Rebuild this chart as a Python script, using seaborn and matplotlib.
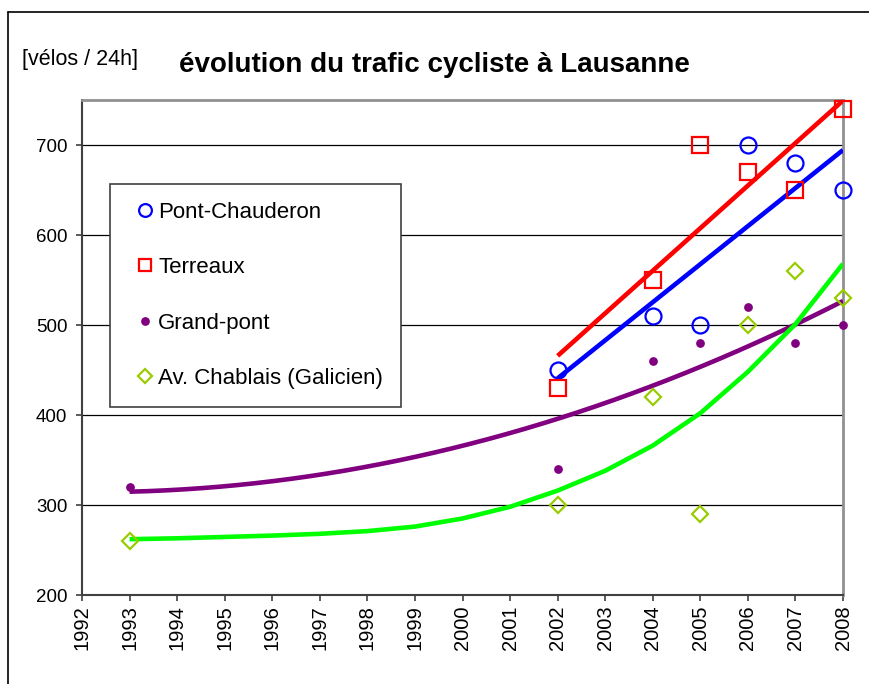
import numpy as np
import pandas as pd
import matplotlib
matplotlib.use("Agg")
import matplotlib.pyplot as plt
import seaborn as sns
from matplotlib.lines import Line2D

sns.set_theme(style="white")
plt.rcParams['font.family'] = ['Liberation Sans', 'DejaVu Sans']
plt.rcParams['text.color'] = 'black'
plt.rcParams['xtick.color'] = 'black'
plt.rcParams['ytick.color'] = 'black'

# ---- data ----
years_pc = [2002, 2004, 2005, 2006, 2007, 2008]
pont_chauderon = [450, 510, 500, 700, 680, 650]
years_te = [2002, 2004, 2005, 2006, 2007, 2008]
terreaux = [430, 550, 700, 670, 650, 740]
years_gp = [1993, 2002, 2004, 2005, 2006, 2007, 2008]
grand_pont = [320, 340, 460, 480, 520, 480, 500]
years_ch = [1993, 2002, 2004, 2005, 2006, 2007, 2008]
chablais = [260, 300, 420, 290, 500, 560, 530]

# trend curve of Av. Chablais
chablais_trend_years = list(range(1993, 2009))
chablais_trend = [262, 263, 264.5, 266, 268, 271, 276, 285, 298, 316, 338, 366,
                  402, 448, 501, 568]

series_names = ["Pont-Chauderon", "Terreaux", "Grand-pont", "Av. Chablais (Galicien)"]
x_ticks = list(range(1992, 2009))
y_ticks = [200, 300, 400, 500, 600, 700]

W, H = 869, 684
fig = plt.figure(figsize=(W / 100, H / 100), dpi=100)
ax = fig.add_axes([82 / W, 1 - 595 / H, (843 - 82) / W, (595 - 100) / H])

def trend(xs, ys, deg):
    c = np.polyfit(np.array(xs, float) - 2000, ys, deg)
    xx = np.linspace(min(xs), max(xs), 200)
    return pd.DataFrame({"x": xx, "y": np.polyval(c, xx - 2000)})

# trend lines
trends = [(trend(years_pc, pont_chauderon, 1), "#0000FF"),
          (trend(years_te, terreaux, 1), "#FF0000"),
          (trend(years_gp, grand_pont, 2), "#800080"),
          (pd.DataFrame({"x": chablais_trend_years, "y": chablais_trend}), "#00FF00")]
for t, col in trends:
    sns.lineplot(data=t, x="x", y="y", ax=ax, color=col, lw=3.3, zorder=3,
                 solid_capstyle="butt", solid_joinstyle="round")

# points
pts = [
    (years_pc, pont_chauderon, "o", 11.5, "#0000FF", "none", 1.6, 0.8),
    (years_te, terreaux, "s", 11.5, "#FF0000", "none", 1.6, 0.8),
    (years_gp, grand_pont, "o", 6.3, "#800080", "#800080", 0, 1.0),
    (years_ch, chablais, "D", 8, "#99CC00", "none", 1.6, 0.85),
]
handles = []
for (xs, ys, m, ms, ec, fc, mew, lscale), name in zip(pts, series_names):
    df = pd.DataFrame({"x": xs, "y": ys})
    ax.plot(df["x"], df["y"], ls="none", marker=m, ms=ms, mec=ec, mfc=fc,
            mew=mew, zorder=4, clip_on=False)
    handles.append(Line2D([], [], ls="none", marker=m, ms=ms * lscale, mec=ec, mfc=fc,
                          mew=mew, label=name))

ax.set_xlim(1992, 2008)
ax.set_ylim(200, 750)
ax.set_xticks(x_ticks)
ax.set_xticklabels([str(v) for v in x_ticks], rotation=90, fontsize=14.5)
ax.set_yticks(y_ticks)
ax.set_yticklabels([str(v) for v in y_ticks], fontsize=13.5)
ax.set_xlabel("")
ax.set_ylabel("")
ax.yaxis.grid(True, color="black", lw=0.9)
ax.xaxis.grid(False)
ax.set_axisbelow(True)
ax.tick_params(axis="both", which="both", direction="out", length=4.5, width=1.2,
               color="#404040", bottom=True, left=True, labelcolor="black")
ax.tick_params(axis="y", pad=6)
ax.tick_params(axis="x", pad=3)
for s in ["left", "bottom"]:
    ax.spines[s].set_color("#404040")
    ax.spines[s].set_linewidth(1.5)
for s in ["top", "right"]:
    ax.spines[s].set_color("#909090")
    ax.spines[s].set_linewidth(2)

leg = fig.legend(handles=handles, loc="upper left",
                 bbox_to_anchor=(110 / W, 1 - 184 / H),
                 bbox_transform=fig.transFigure, borderaxespad=0,
                 fontsize=16, frameon=True, fancybox=False, edgecolor="#404040",
                 framealpha=1, handlelength=1.55, handletextpad=-0.19,
                 labelspacing=1.55, borderpad=0.8, labelcolor="black")
leg.get_frame().set_linewidth(1.2)

fig.text(0.4996, 1 - 65 / H, "évolution du trafic cycliste à Lausanne",
         ha="center", va="center", fontsize=20, fontweight="bold", color="black")
fig.text(22 / W, 1 - 60 / H, "[vélos / 24h]", ha="left", va="center", fontsize=15.5,
         color="black")

# outer border
fig.add_artist(Line2D([8 / W, 8 / W], [0, 1 - 12 / H], transform=fig.transFigure,
                      color="black", lw=1.2))
fig.add_artist(Line2D([8 / W, 1], [1 - 12 / H, 1 - 12 / H], transform=fig.transFigure,
                      color="black", lw=1.2))

fig.savefig("out.png", dpi=100)
